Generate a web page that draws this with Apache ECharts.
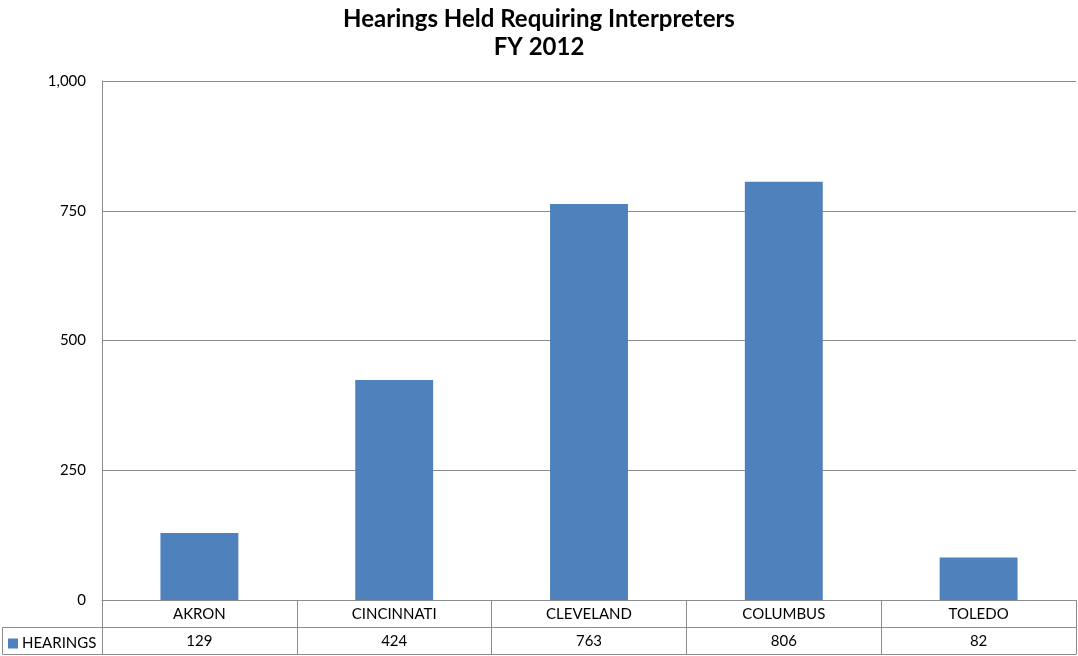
<!DOCTYPE html>
<html>
<head>
<meta charset="utf-8">
<script src="https://cdn.jsdelivr.net/npm/echarts@6/dist/echarts.min.js"></script>
<style>
  html, body { margin: 0; padding: 0; background: #ffffff; }
  #chart { width: 1078px; height: 656px; }
</style>
</head>
<body>
<div id="chart"></div>
<script>
// Hearings held requiring interpreters, by city, FY 2012
const cities = ['AKRON', 'CINCINNATI', 'CLEVELAND', 'COLUMBUS', 'TOLEDO'];
const hearings = [129, 424, 763, 806, 82];
const seriesName = 'HEARINGS';
const yTicks = [0, 250, 500, 750, 1000];

const FONT = 'Lato, "Open Sans", sans-serif';
const LINE = '#8c8c8c';
const BAR = '#4f81bd';

const chart = echarts.init(document.getElementById('chart'));
chart.setOption({
  animation: false,
  title: {
    text: 'Hearings Held Requiring Interpreters\nFY 2012',
    left: 'center',
    top: 0,
    textStyle: { fontFamily: FONT, fontSize: 24, fontWeight: 'bold', color: '#000', lineHeight: 28 }
  },
  legend: {
    data: [seriesName],
    left: 3,
    top: 631,
    icon: 'rect',
    itemWidth: 10,
    itemHeight: 10,
    itemGap: 4,
    textStyle: { fontFamily: FONT, fontSize: 15, color: '#000', padding: [0, 0, 0, -1] },
    selectedMode: false
  },
  grid: { left: 102, right: 2, top: 81, bottom: 56 },
  xAxis: [
    {
      type: 'category',
      data: cities,
      position: 'bottom',
      axisLine: { show: true, lineStyle: { color: LINE, width: 1 } },
      axisTick: { show: true, interval: 0, length: 54, lineStyle: { color: LINE } },
      axisLabel: { interval: 0, margin: 7, fontFamily: FONT, fontSize: 15, color: '#000' }
    },
    {
      type: 'category',
      data: hearings.map(v => String(v)),
      position: 'bottom',
      offset: 27,
      axisLine: { show: true, lineStyle: { color: LINE, width: 1 } },
      axisTick: { show: false },
      axisLabel: { interval: 0, margin: 7, fontFamily: FONT, fontSize: 15, color: '#000' }
    },
    {
      type: 'category',
      data: cities,
      position: 'bottom',
      offset: 54,
      axisLine: { show: true, lineStyle: { color: LINE, width: 1 } },
      axisTick: { show: false },
      axisLabel: { show: false }
    }
  ],
  yAxis: {
    type: 'value',
    min: yTicks[0],
    max: yTicks[yTicks.length - 1],
    interval: 250,
    axisLine: { show: true, lineStyle: { color: LINE, width: 1 } },
    axisTick: { show: false },
    splitLine: { show: true, lineStyle: { color: LINE, width: 1 } },
    axisLabel: {
      margin: 16,
      fontFamily: FONT,
      fontSize: 15,
      color: '#000',
      formatter: v => v.toLocaleString('en-US')
    }
  },
  graphic: [
    {
      type: 'rect',
      shape: { x: 2.5, y: 627.5, width: 100, height: 27 },
      style: { fill: 'none', stroke: LINE, lineWidth: 1 },
      silent: true,
      z: 10
    }
  ],
  series: [
    {
      name: seriesName,
      type: 'bar',
      xAxisIndex: 0,
      data: hearings,
      barWidth: '40%',
      itemStyle: { color: BAR }
    }
  ]
});
</script>
</body>
</html>
